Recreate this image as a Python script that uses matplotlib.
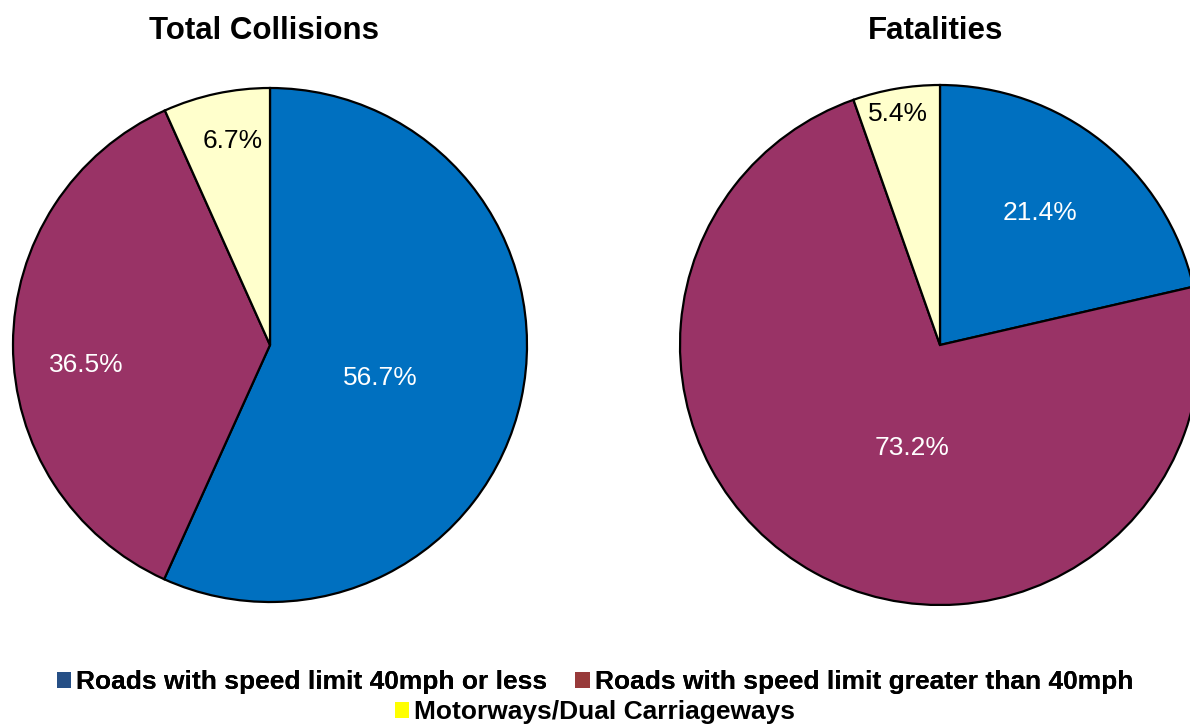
import matplotlib.pyplot as plt
import numpy as np
from matplotlib.patches import Patch

plt.rcParams['font.family'] = ['Liberation Sans', 'DejaVu Sans']

categories = ['Roads with speed limit 40mph or less',
              'Roads with speed limit greater than 40mph',
              'Motorways/Dual Carriageways']
collisions = [56.7, 36.5, 6.7]
fatalities = [21.4, 73.2, 5.4]

wedge_colors = ['#0070C0', '#993366', '#FFFFCC']
legend_colors = ['#264F86', '#983A3A', '#FFFF00']
label_colors = ['white', 'white', 'black']

W, H = 1190, 724


def draw_pie(ax, values, label_dist, label_turn):
    wedges, _ = ax.pie(values, colors=wedge_colors, startangle=90, counterclock=False,
                       radius=1, wedgeprops=dict(edgecolor='black', linewidth=1.6))
    # percentage labels at hand-tuned spots inside each wedge, like the original
    for w, v, d, t, c in zip(wedges, values, label_dist, label_turn, label_colors):
        ang = np.deg2rad((w.theta1 + w.theta2) / 2 + t)
        ax.text(d * np.cos(ang), d * np.sin(ang), f'{v:.1f}%', ha='center', va='center',
                fontsize=19, color=c)
    ax.set_xlim(-1, 1)
    ax.set_ylim(-1, 1)
    ax.set_aspect('equal')
    ax.axis('off')


fig = plt.figure(figsize=(11.9, 7.24), dpi=100)

# left pie: centre (270, 345), radius 257 px
ax1 = fig.add_axes([(270 - 257) / W, (H - 345 - 257) / H, 514 / W, 514 / H])
# right pie: centre (940, 345), radius 260 px (runs off the right edge)
ax2 = fig.add_axes([(940 - 260) / W, (H - 345 - 260) / H, 520 / W, 520 / H])

draw_pie(ax1, collisions, [0.447, 0.72, 0.807], [-4.6, 6.3, -1.8])
draw_pie(ax2, fatalities, [0.637, 0.41, 0.903], [1.4, 13.6, 0.6])

fig.text(264 / W, (H - 31) / H, 'Total Collisions', ha='center', va='center',
         fontsize=22.5, fontweight='bold')
fig.text(936 / W, (H - 31) / H, 'Fatalities', ha='center', va='center',
         fontsize=22.5, fontweight='bold')

handles = [Patch(facecolor=c, edgecolor='none') for c in legend_colors]
leg_kw = dict(frameon=False, handlelength=0.55, handleheight=0.55, handletextpad=0.2,
              columnspacing=1.05, borderaxespad=0, borderpad=0,
              prop=dict(size=19, weight='bold'))
leg1 = fig.legend(handles[:2], categories[:2], ncol=2, loc='center',
                  bbox_to_anchor=(595 / W, (H - 682) / H), **leg_kw)
fig.add_artist(leg1)
fig.legend(handles[2:], categories[2:], ncol=1, loc='center',
           bbox_to_anchor=(595 / W, (H - 712) / H), **leg_kw)

fig.savefig('out.png', dpi=100)
